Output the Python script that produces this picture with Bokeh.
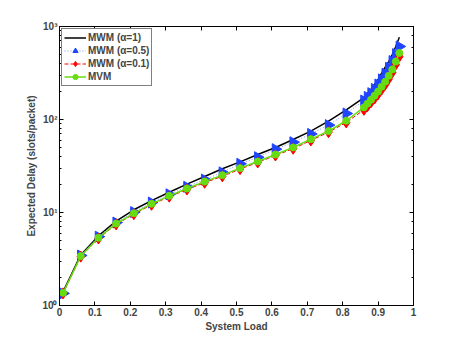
import math
from bokeh.plotting import figure
from bokeh.models import LinearAxis, LogAxis, Legend, LegendItem, FixedTicker
from bokeh.embed import file_html
from bokeh.resources import INLINE

load = [0.01, 0.06, 0.11, 0.16, 0.21, 0.26, 0.31, 0.36, 0.41, 0.46, 0.51, 0.56, 0.61, 0.66,
        0.71, 0.76, 0.81, 0.86, 0.87, 0.88, 0.89, 0.90, 0.91, 0.92, 0.93, 0.94, 0.95, 0.96]

mwm_a1 = [1.4, 3.5, 5.6, 8.1, 10.7, 13.4, 16.5, 20.2, 24.4, 29.5, 35, 42, 50, 61,
          75, 96, 127, 172, 190, 212, 238, 270, 315, 365, 420, 500, 610, 767]
mwm_a05 = [1.35, 3.45, 5.5, 7.8, 10.1, 12.8, 15.7, 18.9, 22.6, 27, 33.4, 39.3, 48, 57,
           70, 87, 116, 160, 175, 192, 213, 238, 270, 310, 360, 425, 505, 610]
mwm_a01 = [1.35, 3.35, 5.25, 7.45, 9.6, 12.1, 14.8, 17.7, 20.9, 24.5, 29.3, 34.5, 41, 48.5,
           59.5, 73, 93, 127, 139, 153, 168, 187, 210, 237, 273, 320, 390, 475]
mvm = [1.37, 3.4, 5.35, 7.6, 9.8, 12.4, 15.1, 18.1, 21.5, 25.2, 30, 35.3, 42, 50,
       61.5, 75, 97, 135, 148, 163, 180, 200, 225, 255, 295, 345, 420, 520]

x_ticks = [0, 0.1, 0.2, 0.3, 0.4, 0.5, 0.6, 0.7, 0.8, 0.9, 1]
x_tick_labels = {0: "0", 0.1: "0.1", 0.2: "0.2", 0.3: "0.3", 0.4: "0.4", 0.5: "0.5",
                 0.6: "0.6", 0.7: "0.7", 0.8: "0.8", 0.9: "0.9", 1: "1"}
y_tick_labels = {1: "10⁰", 10: "10¹", 100: "10²", 1000: "10³"}

FONT = "Liberation Sans"

p = figure(width=457, height=344, x_range=(0, 1), y_range=(1, 1000), y_axis_type="log",
           output_backend="svg", toolbar_location=None,
           min_border_left=59, min_border_right=44, min_border_top=26, min_border_bottom=39)
p.xgrid.visible = False
p.ygrid.visible = False
p.outline_line_color = "black"
p.outline_line_width = 1
p.background_fill_color = "white"
p.border_fill_color = "white"

xa = p.xaxis[0]
xa.ticker = FixedTicker(ticks=x_ticks)
xa.major_label_overrides = x_tick_labels
xa.axis_label = "System Load"
ya = p.yaxis[0]
ya.axis_label = "Expected Delay (slots/packet)"
ya.major_label_overrides = y_tick_labels

for ax in (xa, ya):
    ax.major_tick_in = 4
    ax.major_tick_out = 0
    ax.minor_tick_in = 2
    ax.minor_tick_out = 0
    ax.axis_line_color = "black"
    ax.major_label_text_font = FONT
    ax.major_label_text_font_style = "bold"
    ax.major_label_text_font_size = "10px"
    ax.axis_label_text_font = FONT
    ax.axis_label_text_font_style = "bold"
    ax.axis_label_text_font_size = "10px"
    ax.major_label_standoff = 2
    ax.axis_label_standoff = 2
xa.minor_tick_line_color = None

top = LinearAxis(ticker=FixedTicker(ticks=x_ticks), major_label_text_color=None,
                 major_tick_in=4, major_tick_out=0, minor_tick_line_color=None)
right = LogAxis(major_label_text_color=None, major_tick_in=4, major_tick_out=0,
                minor_tick_in=2, minor_tick_out=0)
p.add_layout(top, "above")
p.add_layout(right, "right")

r1 = p.line(load, mwm_a1, line_color="black", line_width=1.5)

r2l = p.line(load, mwm_a05, line_color="#7f8fff", line_width=1, line_dash="1 2")
r2m = p.scatter(load, mwm_a05, marker="triangle", angle=-math.pi / 2, size=11,
                fill_color="#1f45ff", line_color="#1f45ff")

r3l = p.line(load, mwm_a01, line_color="#ff0000", line_width=1, line_dash="4 2")
r3m = p.scatter(load, mwm_a01, marker="diamond", size=11,
                fill_color="#ff0000", line_color="#ff0000")

r4l = p.line(load, mvm, line_color="#66dd11", line_width=1.5)
r4m = p.scatter(load, mvm, marker="circle", size=7,
                fill_color="#66dd11", line_color="#66dd11")

legend = Legend(items=[
    LegendItem(label="MWM (α=1)", renderers=[r1]),
    LegendItem(label="MWM (α=0.5)", renderers=[r2l, r2m]),
    LegendItem(label="MWM (α=0.1)", renderers=[r3l, r3m]),
    LegendItem(label="MVM", renderers=[r4l, r4m]),
], location="top_left")
legend.margin = 2
legend.padding = 2
legend.spacing = 0
legend.label_height = 13
legend.glyph_height = 13
legend.glyph_width = 22
legend.label_standoff = 2
legend.label_text_font = FONT
legend.label_text_font_style = "bold"
legend.label_text_font_size = "10px"
legend.border_line_color = "black"
legend.border_line_width = 1
legend.background_fill_alpha = 1
p.add_layout(legend, "center")

open("out.html", "w").write(file_html(p, INLINE))
